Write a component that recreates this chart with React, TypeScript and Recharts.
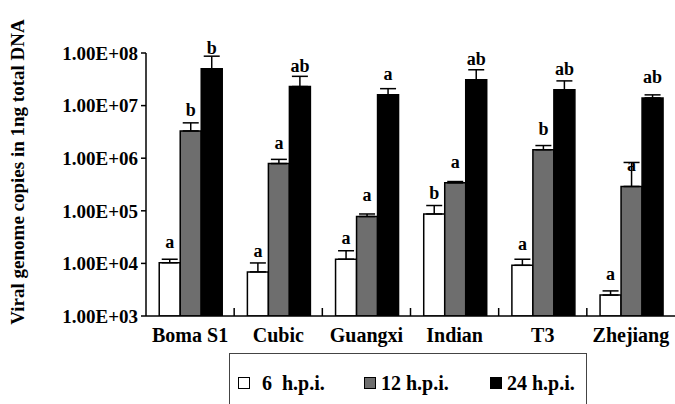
import { BarChart, Bar, XAxis, YAxis, ErrorBar, LabelList, Label } from "recharts";

const strains = ["Boma S1", "Cubic", "Guangxi", "Indian", "T3", "Zhejiang"];

// mean viral genome copies per ng DNA
const hpi6 = [1.03e4, 6.9e3, 1.2e4, 8.7e4, 9.2e3, 2.5e3];
const hpi12 = [3.3e6, 7.9e5, 7.8e4, 3.4e5, 1.45e6, 2.9e5];
const hpi24 = [5.0e7, 2.3e7, 1.6e7, 3.1e7, 2.0e7, 1.4e7];

// top end of each error bar
const hpi6Top = [1.2e4, 1.02e4, 1.74e4, 1.26e5, 1.2e4, 3.0e3];
const hpi12Top = [4.7e6, 9.5e5, 8.7e4, 3.6e5, 1.74e6, 8.3e5];
const hpi24Top = [8.7e7, 3.6e7, 2.1e7, 4.8e7, 2.95e7, 1.6e7];

// significance letters
const hpi6Sig = ["a", "a", "a", "b", "a", "a"];
const hpi12Sig = ["b", "a", "a", "a", "b", "a"];
const hpi24Sig = ["b", "ab", "a", "ab", "ab", "ab"];

const yTicks = [1e3, 1e4, 1e5, 1e6, 1e7, 1e8];

const data = strains.map((name, i) => ({
  name,
  h6: hpi6[i],
  h12: hpi12[i],
  h24: hpi24[i],
  h6Err: [0, hpi6Top[i] - hpi6[i]],
  h12Err: [0, hpi12Top[i] - hpi12[i]],
  h24Err: [0, hpi24Top[i] - hpi24[i]],
  h6Sig: hpi6Sig[i],
  h12Sig: hpi12Sig[i],
  h24Sig: hpi24Sig[i],
}));

const SERIF = '"Liberation Serif", "Times New Roman", serif';

const fmtSci = (v: number) => {
  const [m, e] = v.toExponential(2).split("e");
  const n = Number(e);
  return `${m}E${n < 0 ? "-" : "+"}${String(Math.abs(n)).padStart(2, "0")}`;
};

// category label plus the small upward separator tick at the left edge of the band
const StrainTick = (props: any) => {
  const { x, y, payload, index, width, visibleTicksCount } = props;
  const half =
    payload?.offset || (width && visibleTicksCount ? width / visibleTicksCount / 2 : 0);
  return (
    <g>
      {index > 0 && half > 0 && (
        <line x1={x - half} x2={x - half} y1={y} y2={y - 8} stroke="#000" strokeWidth={1.5} />
      )}
      <text
        x={x}
        y={y + 26}
        textAnchor="middle"
        fontFamily={SERIF}
        fontWeight="bold"
        fontSize={20}
        fill="#000"
      >
        {payload.value}
      </text>
    </g>
  );
};

const letterStyle = {
  fill: "#000",
  fontFamily: SERIF,
  fontWeight: "bold",
  fontSize: 18,
};

const legendItems = [
  { label: "6  h.p.i.", color: "#fff", left: 8 },
  { label: "12 h.p.i.", color: "#6e6e6e", left: 134 },
  { label: "24 h.p.i.", color: "#000", left: 260 },
];

export default function App() {
  return (
    <div
      style={{
        position: "absolute",
        left: 0,
        top: 0,
        width: 675,
        height: 404,
        overflow: "hidden",
        background: "#fff",
      }}
    >
      <BarChart
        width={675}
        height={404}
        data={data}
        margin={{ top: 53, right: 0, bottom: 0, left: 0 }}
        barCategoryGap="15%"
        barGap={0}
      >
        <XAxis
          dataKey="name"
          height={88}
          axisLine={{ stroke: "#000", strokeWidth: 1.5 }}
          tickLine={false}
          tickSize={0}
          tickMargin={0}
          interval={0}
          tick={<StrainTick />}
        />
        <YAxis
          width={146}
          scale="log"
          domain={[1e3, 1e8]}
          ticks={yTicks}
          allowDataOverflow
          tickFormatter={fmtSci}
          axisLine={{ stroke: "#000", strokeWidth: 1.5 }}
          tickLine={{ stroke: "#000", strokeWidth: 1.5 }}
          tickSize={5}
          tickMargin={3}
          tick={{ fill: "#000", fontFamily: SERIF, fontWeight: "bold", fontSize: 19 }}
        >
          <Label
            content={() => (
              <text
                transform="translate(24,172) rotate(-90)"
                textAnchor="middle"
                fontFamily={SERIF}
                fontWeight="bold"
                fontSize={19}
                fill="#000"
              >
                Viral genome copies in  1ng total DNA
              </text>
            )}
          />
        </YAxis>
        <Bar dataKey="h6" fill="#fff" stroke="#000" strokeWidth={1.5} isAnimationActive={false}>
          <ErrorBar dataKey="h6Err" direction="y" width={8} stroke="#000" strokeWidth={1.5} />
          <LabelList dataKey="h6Sig" position="top" offset={15} {...letterStyle} />
        </Bar>
        <Bar dataKey="h12" fill="#6e6e6e" stroke="#000" strokeWidth={1.5} isAnimationActive={false}>
          <ErrorBar dataKey="h12Err" direction="y" width={8} stroke="#000" strokeWidth={1.5} />
          <LabelList dataKey="h12Sig" position="top" offset={15} {...letterStyle} />
        </Bar>
        <Bar dataKey="h24" fill="#000" stroke="#000" strokeWidth={1.5} isAnimationActive={false}>
          <ErrorBar dataKey="h24Err" direction="y" width={8} stroke="#000" strokeWidth={1.5} />
          <LabelList dataKey="h24Sig" position="top" offset={15} {...letterStyle} />
        </Bar>
      </BarChart>
      <div
        style={{
          position: "absolute",
          left: 229,
          top: 353,
          width: 358,
          height: 70,
          border: "1.5px solid #444",
          boxSizing: "border-box",
          fontFamily: SERIF,
          fontWeight: "bold",
          fontSize: 20,
          color: "#000",
        }}
      >
        {legendItems.map((it) => (
          <div
            key={it.label}
            style={{ position: "absolute", left: it.left, top: 17, display: "flex", alignItems: "center", whiteSpace: "pre" }}
          >
            <span
              style={{
                display: "inline-block",
                width: 10,
                height: 10,
                background: it.color,
                border: "1.5px solid #000",
                marginRight: it.label.startsWith("6") ? 12 : 5,
              }}
            />
            <span style={{ lineHeight: "24px" }}>{it.label}</span>
          </div>
        ))}
      </div>
    </div>
  );
}
